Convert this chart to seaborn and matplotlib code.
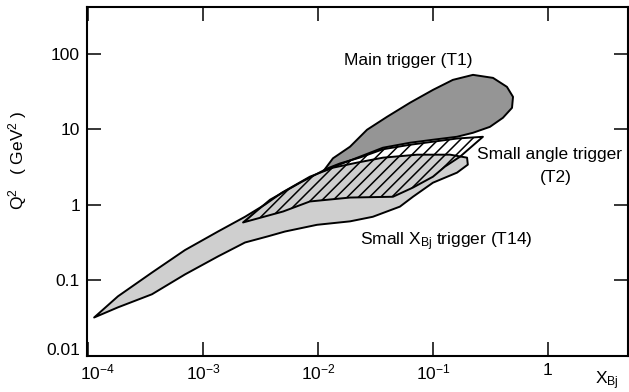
import numpy as np
import pandas as pd
import matplotlib
matplotlib.use("Agg")
import matplotlib.pyplot as plt
from matplotlib.transforms import ScaledTranslation
import seaborn as sns

# ---- data: region outlines (x_Bj, Q^2 in GeV^2) ----
# Small x_Bj trigger (T14)
t14_x = [1.13e-4, 1.82e-4, 3.6e-4, 6.97e-4, 1.35e-3, 2.32e-3, 3.46e-3, 4.86e-3,
         8.5e-3, 0.0135, 0.0218, 0.0367, 0.0726, 0.141, 0.198, 0.201, 0.162,
         0.10, 0.067, 0.0516, 0.030, 0.019, 9.8e-3, 5.16e-3, 3.67e-3, 2.32e-3,
         1.35e-3, 6.97e-4, 3.6e-4, 1.82e-4]
t14_q2 = [0.032, 0.061, 0.126, 0.25, 0.44, 0.69, 1.0, 1.44,
          2.34, 3.08, 3.59, 4.18, 4.58, 4.58, 4.18, 3.38, 2.65,
          1.95, 1.27, 0.94, 0.69, 0.60, 0.54, 0.44, 0.38, 0.315,
          0.206, 0.119, 0.065, 0.0436]

# Small angle trigger (T2)
t2_x = [2.23e-3, 3.83e-3, 7.0e-3, 0.012, 0.0155, 0.0232, 0.0367, 0.0631, 0.10,
        0.162, 0.272, 0.172, 0.127, 0.10, 0.067, 0.0449, 0.019, 8.5e-3, 4.97e-3]
t2_q2 = [0.58, 1.16, 1.95, 3.0, 3.5, 4.2, 5.4, 6.2, 6.8,
         7.5, 7.9, 4.31, 3.18, 2.34, 1.68, 1.27, 1.24, 1.10, 0.81]

# Main trigger (T1)
t1_x = [0.0112, 0.0135, 0.019, 0.0267, 0.0398, 0.0631, 0.10, 0.149, 0.223, 0.333,
        0.44, 0.497, 0.487, 0.406, 0.313, 0.223, 0.162, 0.10, 0.0631, 0.0367,
        0.0232, 0.0155]
t1_q2 = [2.8, 4.1, 5.84, 9.79, 14.5, 22.3, 33.0, 44.8, 52.2, 47.6,
         36.2, 26.7, 19.1, 14.1, 10.7, 8.93, 7.91, 7.22, 6.59, 5.66,
         4.31, 3.4]

x_ticks = [1e-4, 1e-3, 1e-2, 1e-1, 1]
x_tick_labels = [r"$\mathregular{10^{-4}}$", r"$\mathregular{10^{-3}}$",
                 r"$\mathregular{10^{-2}}$", r"$\mathregular{10^{-1}}$", "1"]
y_ticks = [0.01, 0.1, 1, 10, 100]
y_tick_labels = ["0.01", "0.1", "1", "10", "100"]

sns.set_style("ticks")
plt.rcParams["font.family"] = ["Liberation Sans", "DejaVu Sans"]
plt.rcParams["mathtext.fontset"] = "custom"
plt.rcParams["mathtext.rm"] = "Liberation Sans"
plt.rcParams["mathtext.it"] = "Liberation Sans"
plt.rcParams["hatch.linewidth"] = 1.1
for k in ["text.color", "axes.labelcolor", "xtick.color", "ytick.color", "axes.edgecolor"]:
    plt.rcParams[k] = "black"

fig = plt.figure(figsize=(6.29, 3.92), dpi=100)
ax = fig.add_axes([87 / 629, 1 - 356 / 392, (628 - 87) / 629, (356 - 7) / 392])
ax.set_xscale("log")
ax.set_yscale("log")

df14 = pd.DataFrame({"x": t14_x, "q2": t14_q2})
df2 = pd.DataFrame({"x": t2_x, "q2": t2_q2})
df1 = pd.DataFrame({"x": t1_x, "q2": t1_q2})

lw = 1.4
ax.fill(df14["x"], df14["q2"], facecolor="#cfcfcf", edgecolor="black",
        linewidth=lw, joinstyle="round", zorder=2)
ax.fill(df1["x"], df1["q2"], facecolor="#959595", edgecolor="black",
        linewidth=lw, joinstyle="round", zorder=3)
ax.fill(df2["x"], df2["q2"], facecolor="none", edgecolor="black", hatch="///",
        linewidth=lw, joinstyle="round", zorder=4)

ax.set_xlim(0.98e-4, 4.97)
ax.set_ylim(0.0099, 413)

ax.xaxis.set_major_locator(matplotlib.ticker.FixedLocator(x_ticks))
ax.xaxis.set_minor_locator(matplotlib.ticker.NullLocator())
ax.yaxis.set_major_locator(matplotlib.ticker.FixedLocator(y_ticks))
ax.yaxis.set_minor_locator(matplotlib.ticker.NullLocator())
ax.set_xticklabels(x_tick_labels)
ax.set_yticklabels(y_tick_labels)
ax.tick_params(which="both", direction="in", top=True, right=True,
               length=10, width=1.1, labelsize=12.5, pad=5)
for s in ax.spines.values():
    s.set_linewidth(1.5)

# nudge corner tick labels away from the corner, as in the reference
xl0 = ax.get_xticklabels()[0]
xl0.set_transform(xl0.get_transform() + ScaledTranslation(0.09, 0, fig.dpi_scale_trans))
yl0 = ax.get_yticklabels()[0]
yl0.set_transform(yl0.get_transform() + ScaledTranslation(0, 0.07, fig.dpi_scale_trans))

fs = 12.5
ax.set_xlabel(r"$\mathregular{X_{Bj}}$", fontsize=fs, va="center", ha="center")
ax.xaxis.set_label_coords(0.961, -0.07)
ax.set_ylabel(r"$\mathregular{Q^2}$   ( GeV$^{\mathregular{2}}$ )", fontsize=fs,
              va="center", ha="center")
ax.yaxis.set_label_coords(-0.129, 0.56)

ax.text(0.0607, 79.8, "Main trigger (T1)", fontsize=fs, ha="center", va="center")
ax.text(1.04, 4.58, "Small angle trigger", fontsize=fs, ha="center", va="center")
ax.text(1.17, 2.27, "(T2)", fontsize=fs, ha="center", va="center")
ax.text(0.132, 0.325, r"Small $\mathregular{X_{Bj}}$ trigger (T14)", fontsize=fs,
        ha="center", va="center")

fig.savefig("out.png", dpi=100)
